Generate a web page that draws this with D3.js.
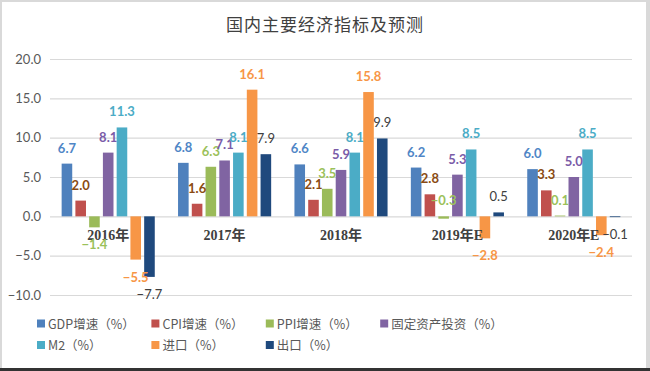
<!DOCTYPE html>
<html>
<head>
<meta charset="utf-8">
<script src="https://cdn.jsdelivr.net/npm/d3@7"></script>
<style>
  body { margin: 0; background: #d9d9d9; }
  svg { display: block; }
</style>
</head>
<body>
<script>
const width = 650;
const height = 371;

// data
const categories = ["2016年", "2017年", "2018年", "2019年E", "2020年E"];
const seriesNames = ["GDP增速（%）", "CPI增速（%）", "PPI增速（%）", "固定资产投资（%）", "M2（%）", "进口（%）", "出口（%）"];
const gdp = [6.7, 6.8, 6.6, 6.2, 6.0];
const cpi = [2.0, 1.6, 2.1, 2.8, 3.3];
const ppi = [-1.4, 6.3, 3.5, -0.3, 0.1];
const fai = [8.1, 7.1, 5.9, 5.3, 5.0];
const m2 = [11.3, 8.1, 8.1, 8.5, 8.5];
const imports = [-5.5, 16.1, 15.8, -2.8, -2.4];
const exports = [-7.7, 7.9, 9.9, 0.5, -0.1];
const yTicks = [-10, -5, 0, 5, 10, 15, 20];

const values = [gdp, cpi, ppi, fai, m2, imports, exports];

var barColors = ["#4f81bd", "#c0504d", "#9bbb59", "#8064a2", "#4bacc6", "#f79646", "#1f497d"];
var labelColors = ["#4f86c6", "#8a4b12", "#9bc15a", "#7a5ca8", "#4bacc6", "#f79646", "#404040"];
var textColor = "#595959";

const svg = d3.select("body")
    .append("svg")
    .attr("width", width)
    .attr("height", height);

// frame
svg.append("rect")
    .attr("x", 2).attr("y", 2)
    .attr("width", 644).attr("height", 366)
    .attr("fill", "#fff");
svg.append("rect")
    .attr("x", 0).attr("y", 368)
    .attr("width", width).attr("height", 3)
    .attr("fill", "#333");

svg.append("text")
    .attr("x", 325).attr("y", 31)
    .attr("text-anchor", "middle")
    .attr("font-family", "'Noto Sans CJK SC'")
    .attr("font-size", 17)
    .attr("fill", "#404040")
    .attr("letter-spacing", 1)
    .text("国内主要经济指标及预测");

const x0 = d3.scaleBand().domain(categories).range([50, 632]).paddingInner(0.2).paddingOuter(0.1);
const x1 = d3.scaleBand().domain(seriesNames).range([0, x0.bandwidth()]).paddingInner(0.23);
const y = d3.scaleLinear().domain([-10, 20]).range([295, 59]);

// grid + y ticks
const yAxis = svg.append("g")
    .attr("transform", "translate(50,0)")
    .call(d3.axisLeft(y).tickValues(yTicks).tickSize(-582).tickFormat(d3.format(".1f")).tickPadding(9));
yAxis.select(".domain").remove();
yAxis.selectAll(".tick line").attr("stroke", "#d9d9d9").attr("stroke-width", 1.2);
yAxis.selectAll(".tick text")
    .attr("fill", textColor)
    .attr("font-family", "Lato, 'Open Sans', sans-serif")
    .attr("font-size", 13);

// bars
const rows = [];
values.forEach((vals, s) => {
    vals.forEach((v, c) => rows.push({s: s, name: seriesNames[s], cat: categories[c], v: v}));
});

svg.append("g").selectAll("rect")
    .data(rows)
    .join("rect")
    .attr("x", d => x0(d.cat) + x1(d.name))
    .attr("y", d => y(Math.max(0, d.v)))
    .attr("width", x1.bandwidth())
    .attr("height", d => Math.abs(y(d.v) - y(0)))
    .attr("fill", d => barColors[d.s]);

// category labels
svg.append("g").selectAll("text")
    .data(categories)
    .join("text")
    .attr("x", d => x0(d) + x0.bandwidth() / 2)
    .attr("y", 240)
    .attr("text-anchor", "middle")
    .attr("font-family", "'Liberation Serif', 'Noto Sans CJK SC', serif")
    .attr("font-weight", "bold")
    .attr("font-size", 14)
    .attr("fill", "#404040")
    .text(d => d);

// value labels: above for positive, below for negative
// (tiny negatives of the middle series sit above the axis like in the source)
const labelAbove = d => d.v >= 0 || (d.v > -0.5 && d.s !== 6);
svg.append("g").selectAll("text")
    .data(rows)
    .join("text")
    .attr("x", d => x0(d.cat) + x1(d.name) + x1.bandwidth() / 2)
    .attr("y", d => labelAbove(d) ? y(Math.max(0, d.v)) - 4 : y(d.v) + 22)
    .attr("text-anchor", "middle")
    .attr("font-family", "Lato, 'Open Sans', sans-serif")
    .attr("font-weight", d => d.s === 6 ? "normal" : "bold")
    .attr("font-size", 13)
    .attr("fill", d => labelColors[d.s])
    .attr("dy", d => labelAbove(d) ? -7 : 0)
    .text(d => d3.format(".1f")(d.v));

// legend
const legend = svg.append("g").selectAll("g")
    .data(seriesNames)
    .join("g")
    .attr("transform", (d, i) => "translate(" + (37 + (i % 4) * 114.4) + "," + (324 + Math.floor(i / 4) * 21.5) + ")");
legend.append("rect")
    .attr("x", 0).attr("y", -4.5)
    .attr("width", 8).attr("height", 8)
    .attr("fill", (d, i) => barColors[i]);
legend.append("text")
    .attr("x", 11).attr("y", 4.5)
    .attr("font-family", "'Noto Sans CJK SC'")
    .attr("font-size", 12.5)
    .attr("fill", textColor)
    .text(d => d);
</script>
</body>
</html>
